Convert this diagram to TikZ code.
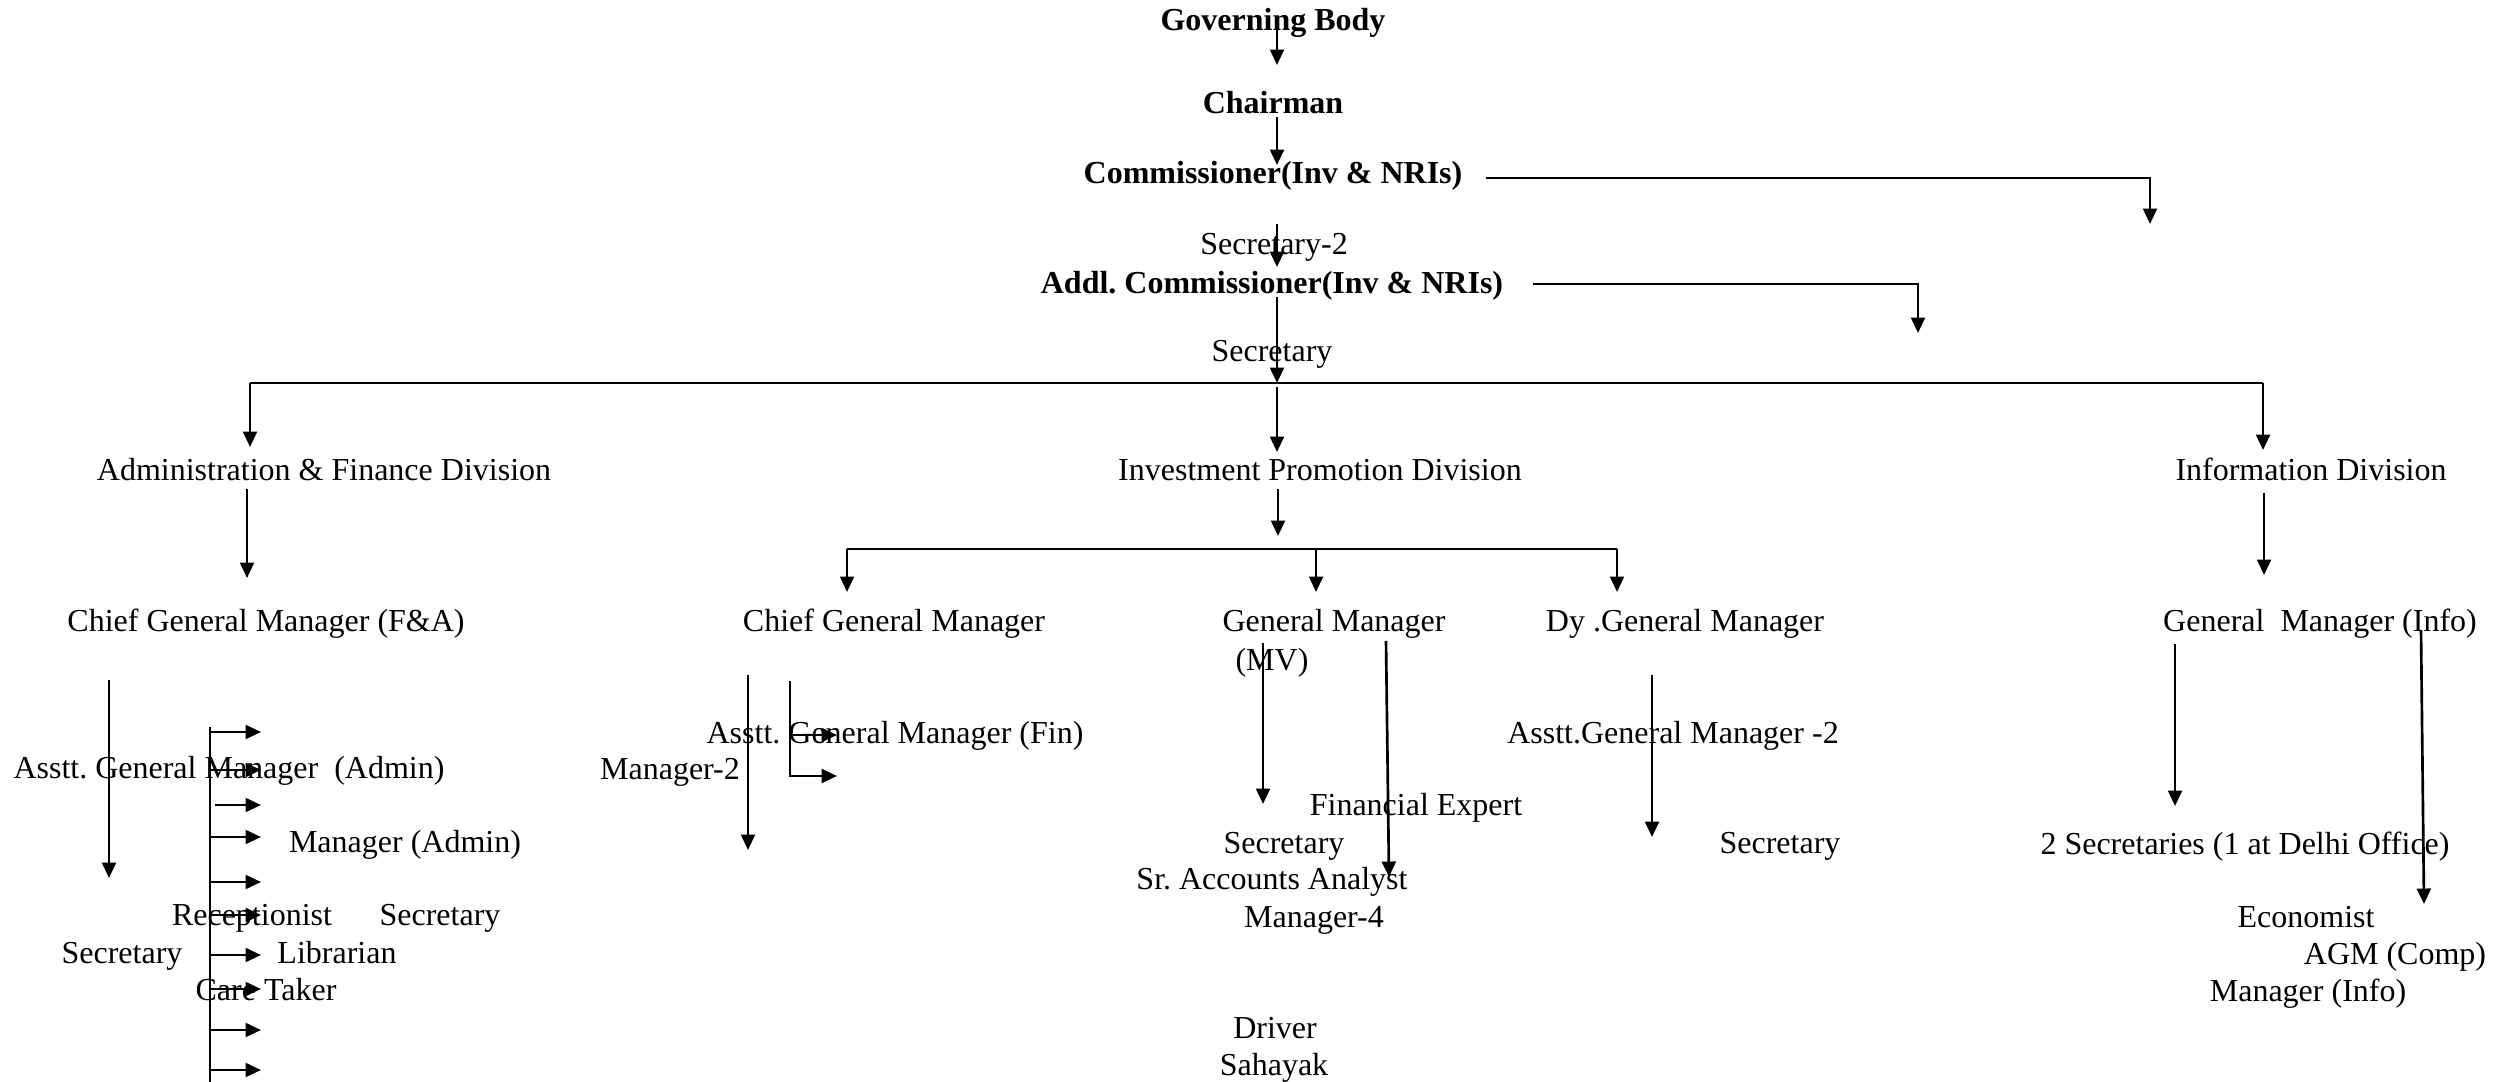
\documentclass[tikz,border=0pt]{standalone}
\usepackage{fontspec}
\setmainfont{Liberation Serif}
\usetikzlibrary{arrows.meta}
\tikzset{
  lbl/.style={anchor=base, inner sep=0pt, font=\fontsize{12}{14}\selectfont},
  blbl/.style={lbl, font=\fontsize{12}{14}\selectfont\bfseries},
  conn/.style={line width=1pt},
  arr/.style={conn, -{Triangle[length=5.8pt,width=5.2pt]}},
}
\begin{document}
\begin{tikzpicture}[x=0.375pt, y=-0.375pt]
\fill[white] (0,0) rectangle (2513,1082);
\useasboundingbox (0,0) rectangle (2513,1082);

% ---------- texts (x = centre, y = baseline) ----------
\node[blbl] (gov)   at (1273,31)  {Governing Body};
\node[blbl] (chair) at (1273,114) {Chairman};
\node[blbl] (comm)  at (1273,184) {Commissioner(Inv \& NRIs)};
\node[lbl]  (sec2)  at (1274,255) {Secretary-2};
\node[blbl] (addl)  at (1272,294) {Addl.\ Commissioner(Inv \& NRIs)};
\node[lbl]  (secA)  at (1272,362) {Secretary};

\node[lbl] (adm)  at (324,481)  {Administration \& Finance Division};
\node[lbl] (inv)  at (1320,481) {Investment Promotion Division};
\node[lbl] (info) at (2311,481) {Information Division};

\node[lbl] (cgmfa) at (266,631)  {Chief General Manager (F\&A)};
\node[lbl] (cgm)   at (894,631)  {Chief General Manager};
\node[lbl] (gm)    at (1334,631) {General Manager};
\node[lbl] (mv)    at (1272,670) {(MV)};
\node[lbl] (dgm)   at (1685,631) {Dy .General Manager};
\node[lbl] (gmi)   at (2320,631) {General\ \ Manager (Info)};

\node[lbl] (agma) at (229,778) {Asstt.\ General Manager\ \ (Admin)};
\node[lbl] (mgra) at (405,852) {Manager (Admin)};
\node[lbl] (recp) at (252,925) {Receptionist};
\node[lbl] (secB) at (440,925) {Secretary};
\node[lbl] (secC) at (122,963) {Secretary};
\node[lbl] (lib)  at (337,963) {Librarian};
\node[lbl] (care) at (266,1000) {Care Taker};

\node[lbl] (agmf) at (895,743) {Asstt.\ General Manager (Fin)};
\node[lbl] (mgr2) at (670,779) {Manager-2};

\node[lbl] (fin)  at (1416,815) {Financial Expert};
\node[lbl] (secD) at (1284,853) {Secretary};
\node[lbl] (sra)  at (1272,889) {Sr.\ Accounts Analyst};
\node[lbl] (mgr4) at (1314,927) {Manager-4};
\node[lbl] (drv)  at (1275,1038) {Driver};
\node[lbl] (sah)  at (1274,1075) {Sahayak};

\node[lbl] (agm2) at (1673,743) {Asstt.General Manager -2};
\node[lbl] (secE) at (1780,853) {Secretary};

\node[lbl] (secs) at (2245,854) {2 Secretaries (1 at Delhi Office)};
\node[lbl] (eco)  at (2306,927) {Economist};
\node[lbl] (agmc) at (2395,964) {AGM (Comp)};
\node[lbl] (mgri) at (2308,1001) {Manager (Info)};

% ---------- connector points ----------
\coordinate (t1a) at (1277,30);  \coordinate (t1b) at (1277,65);
\coordinate (t2a) at (1277,117); \coordinate (t2b) at (1277,165);
\coordinate (c1a) at (1486,178); \coordinate (c1b) at (2150,178); \coordinate (c1c) at (2150,224);
\coordinate (t3a) at (1277,224); \coordinate (t3b) at (1277,267);
\coordinate (c2a) at (1533,284); \coordinate (c2b) at (1918,284); \coordinate (c2c) at (1918,333);
\coordinate (t4a) at (1277,297); \coordinate (t4b) at (1277,383);
\coordinate (b1l) at (250,383);  \coordinate (b1r) at (2263,383);
\coordinate (b1ld) at (250,447); \coordinate (b1rd) at (2263,450);
\coordinate (t5a) at (1277,387); \coordinate (t5b) at (1277,452);
\coordinate (d1a) at (247,489);  \coordinate (d1b) at (247,578);
\coordinate (d2a) at (1278,489); \coordinate (d2b) at (1278,536);
\coordinate (d3a) at (2264,493); \coordinate (d3b) at (2264,575);
\coordinate (b2l) at (847,549);  \coordinate (b2m) at (1316,549); \coordinate (b2r) at (1617,549);
\coordinate (b2ld) at (847,592); \coordinate (b2md) at (1316,592); \coordinate (b2rd) at (1617,592);

\coordinate (l1a) at (109,680);  \coordinate (l1b) at (109,878);
\coordinate (vl1) at (210,727);  \coordinate (vl2) at (210,1082);

\coordinate (m1a) at (748,675);  \coordinate (m1b) at (748,850);
\coordinate (m2a) at (790,681);  \coordinate (m2b) at (790,776); \coordinate (m2c) at (837,776);
\coordinate (m3a) at (790,735);  \coordinate (m3b) at (837,735);
\coordinate (g1a) at (1263,643); \coordinate (g1b) at (1263,804);
\coordinate (g2a) at (1386,641); \coordinate (g2b) at (1389,877);
\coordinate (h1a) at (1652,675); \coordinate (h1b) at (1652,837);
\coordinate (i1a) at (2175,644); \coordinate (i1b) at (2175,806);
\coordinate (i2a) at (2421,631); \coordinate (i2b) at (2424,904);

% ---------- connectors ----------
\draw[arr] (t1a) -- (t1b);
\draw[arr] (t2a) -- (t2b);
\draw[arr] (c1a) -- (c1b) -- (c1c);
\draw[arr] (t3a) -- (t3b);
\draw[arr] (c2a) -- (c2b) -- (c2c);
\draw[arr] (t4a) -- (t4b);
\draw[conn] (b1l) -- (b1r);
\draw[arr] (b1l) -- (b1ld);
\draw[arr] (b1r) -- (b1rd);
\draw[arr] (t5a) -- (t5b);
\draw[arr] (d1a) -- (d1b);
\draw[arr] (d2a) -- (d2b);
\draw[arr] (d3a) -- (d3b);
\draw[conn] (b2l) -- (b2r);
\draw[arr] (b2l) -- (b2ld);
\draw[arr] (b2m) -- (b2md);
\draw[arr] (b2r) -- (b2rd);

\draw[arr] (l1a) -- (l1b);
\draw[conn] (vl1) -- (vl2);
\foreach \i/\y/\s in {1/732/210, 2/770/210, 3/805/215, 4/837/210, 5/882/210,
                      6/915/210, 7/955/210, 8/989/210, 9/1030/210, 10/1070/210}{
  \coordinate (ra\i) at (\s,\y);
  \coordinate (rb\i) at (261,\y);
  \draw[arr] (ra\i) -- (rb\i);
}

\draw[arr] (m1a) -- (m1b);
\draw[arr] (m2a) -- (m2b) -- (m2c);
\draw[arr] (m3a) -- (m3b);
\draw[arr] (g1a) -- (g1b);
\draw[arr] (g2a) -- (g2b);
\draw[arr] (h1a) -- (h1b);
\draw[arr] (i1a) -- (i1b);
\draw[arr] (i2a) -- (i2b);
\end{tikzpicture}
\end{document}
